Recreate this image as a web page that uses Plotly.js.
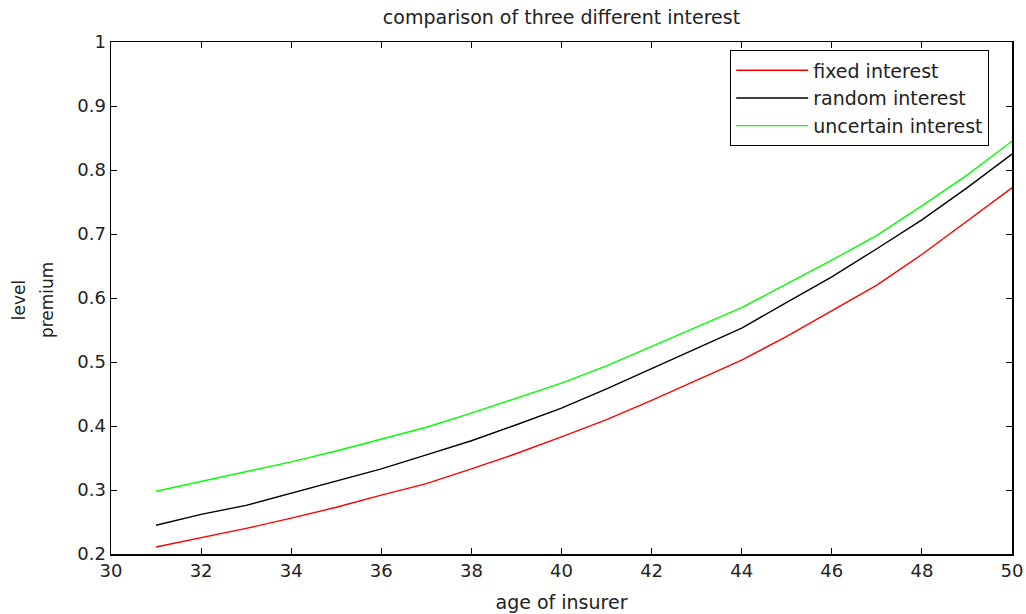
<!DOCTYPE html>
<html>
<head>
<meta charset="utf-8">
<script src="https://cdn.plot.ly/plotly-3.0.1.min.js"></script>
<style>body{margin:0;padding:0;background:#fff}#chart{width:1026px;height:614px}</style>
</head>
<body>
<div id="chart"></div>
<script>
var ages = [31,32,33,34,35,36,37,38,39,40,41,42,43,44,45,46,47,48,49,50];
var fixedInterest = [0.211,0.225,0.240,0.256,0.273,0.292,0.310,0.333,0.357,0.383,0.410,0.440,0.471,0.503,0.540,0.580,0.620,0.668,0.720,0.772];
var randomInterest = [0.245,0.262,0.276,0.295,0.314,0.333,0.355,0.377,0.402,0.428,0.458,0.490,0.521,0.553,0.593,0.633,0.677,0.722,0.772,0.825];
var uncertainInterest = [0.298,0.313,0.328,0.344,0.361,0.379,0.398,0.420,0.443,0.467,0.494,0.524,0.555,0.585,0.622,0.659,0.698,0.744,0.792,0.845];
var seriesNames = ['fixed interest','random interest','uncertain interest'];
var xTicks = [30,32,34,36,38,40,42,44,46,48,50];
var yTicks = [0.2,0.3,0.4,0.5,0.6,0.7,0.8,0.9,1];
var yTickText = ['0.2','0.3','0.4','0.5','0.6','0.7','0.8','0.9','1'];
var yTitleLines = ['level','premium'];

var FONT = 'DejaVu Sans, Verdana, sans-serif';
var colors = ['#ff0000','#000000','#00ff00'];
var ys = [fixedInterest, randomInterest, uncertainInterest];
var traces = ys.map(function(y,i){
  return {x: ages, y: y, type:'scatter', mode:'lines', name: seriesNames[i],
          legendgroup: 'g'+i,
          line:{color: colors[i], width:1.4}};
});

var axisCommon = {
  showline:true, linecolor:'#000', linewidth:1.5, mirror:'ticks',
  ticks:'inside', ticklen:6, tickcolor:'#000', tickwidth:1,
  showgrid:false, zeroline:false,
  tickfont:{family:FONT, size:18, color:'#222'}
};

var layout = {
  width:1026, height:614,
  margin:{l:111, r:14, t:42, b:60},
  paper_bgcolor:'#fff', plot_bgcolor:'#fff',
  title:{text:'comparison of three different interest', x:0.5, xref:'paper', y:0.972, yanchor:'middle',
         font:{family:FONT, size:19, color:'#222'}},
  xaxis: Object.assign({}, axisCommon, {
    range:[30,50], tickvals:xTicks, ticktext:xTicks.map(String),
    title:{text:'age of insurer', standoff:15, font:{family:FONT, size:19, color:'#222'}}
  }),
  yaxis: Object.assign({}, axisCommon, {
    range:[0.2,1], tickvals:yTicks, ticktext:yTickText
  }),
  annotations: [
    {text: yTitleLines[0], xref:'paper', yref:'paper', x:-0.102, y:0.496, xanchor:'center', yanchor:'middle',
     textangle:-90, showarrow:false, font:{family:FONT, size:17, color:'#222'}},
    {text: yTitleLines[1], xref:'paper', yref:'paper', x:-0.071, y:0.496, xanchor:'center', yanchor:'middle',
     textangle:-90, showarrow:false, font:{family:FONT, size:17, color:'#222'}}
  ],
  showlegend:true,
  legend:{x:0.687, y:0.984, xanchor:'left', yanchor:'top',
          bgcolor:'#fff', bordercolor:'#000', borderwidth:1.2,
          font:{family:FONT, size:19, color:'#222'},
          traceorder:'grouped', tracegroupgap:0, itemwidth:72,
          entrywidth:262, entrywidthmode:'pixels'}
};

Plotly.newPlot('chart', traces, layout, {displayModeBar:false, staticPlot:true});
</script>
</body>
</html>
